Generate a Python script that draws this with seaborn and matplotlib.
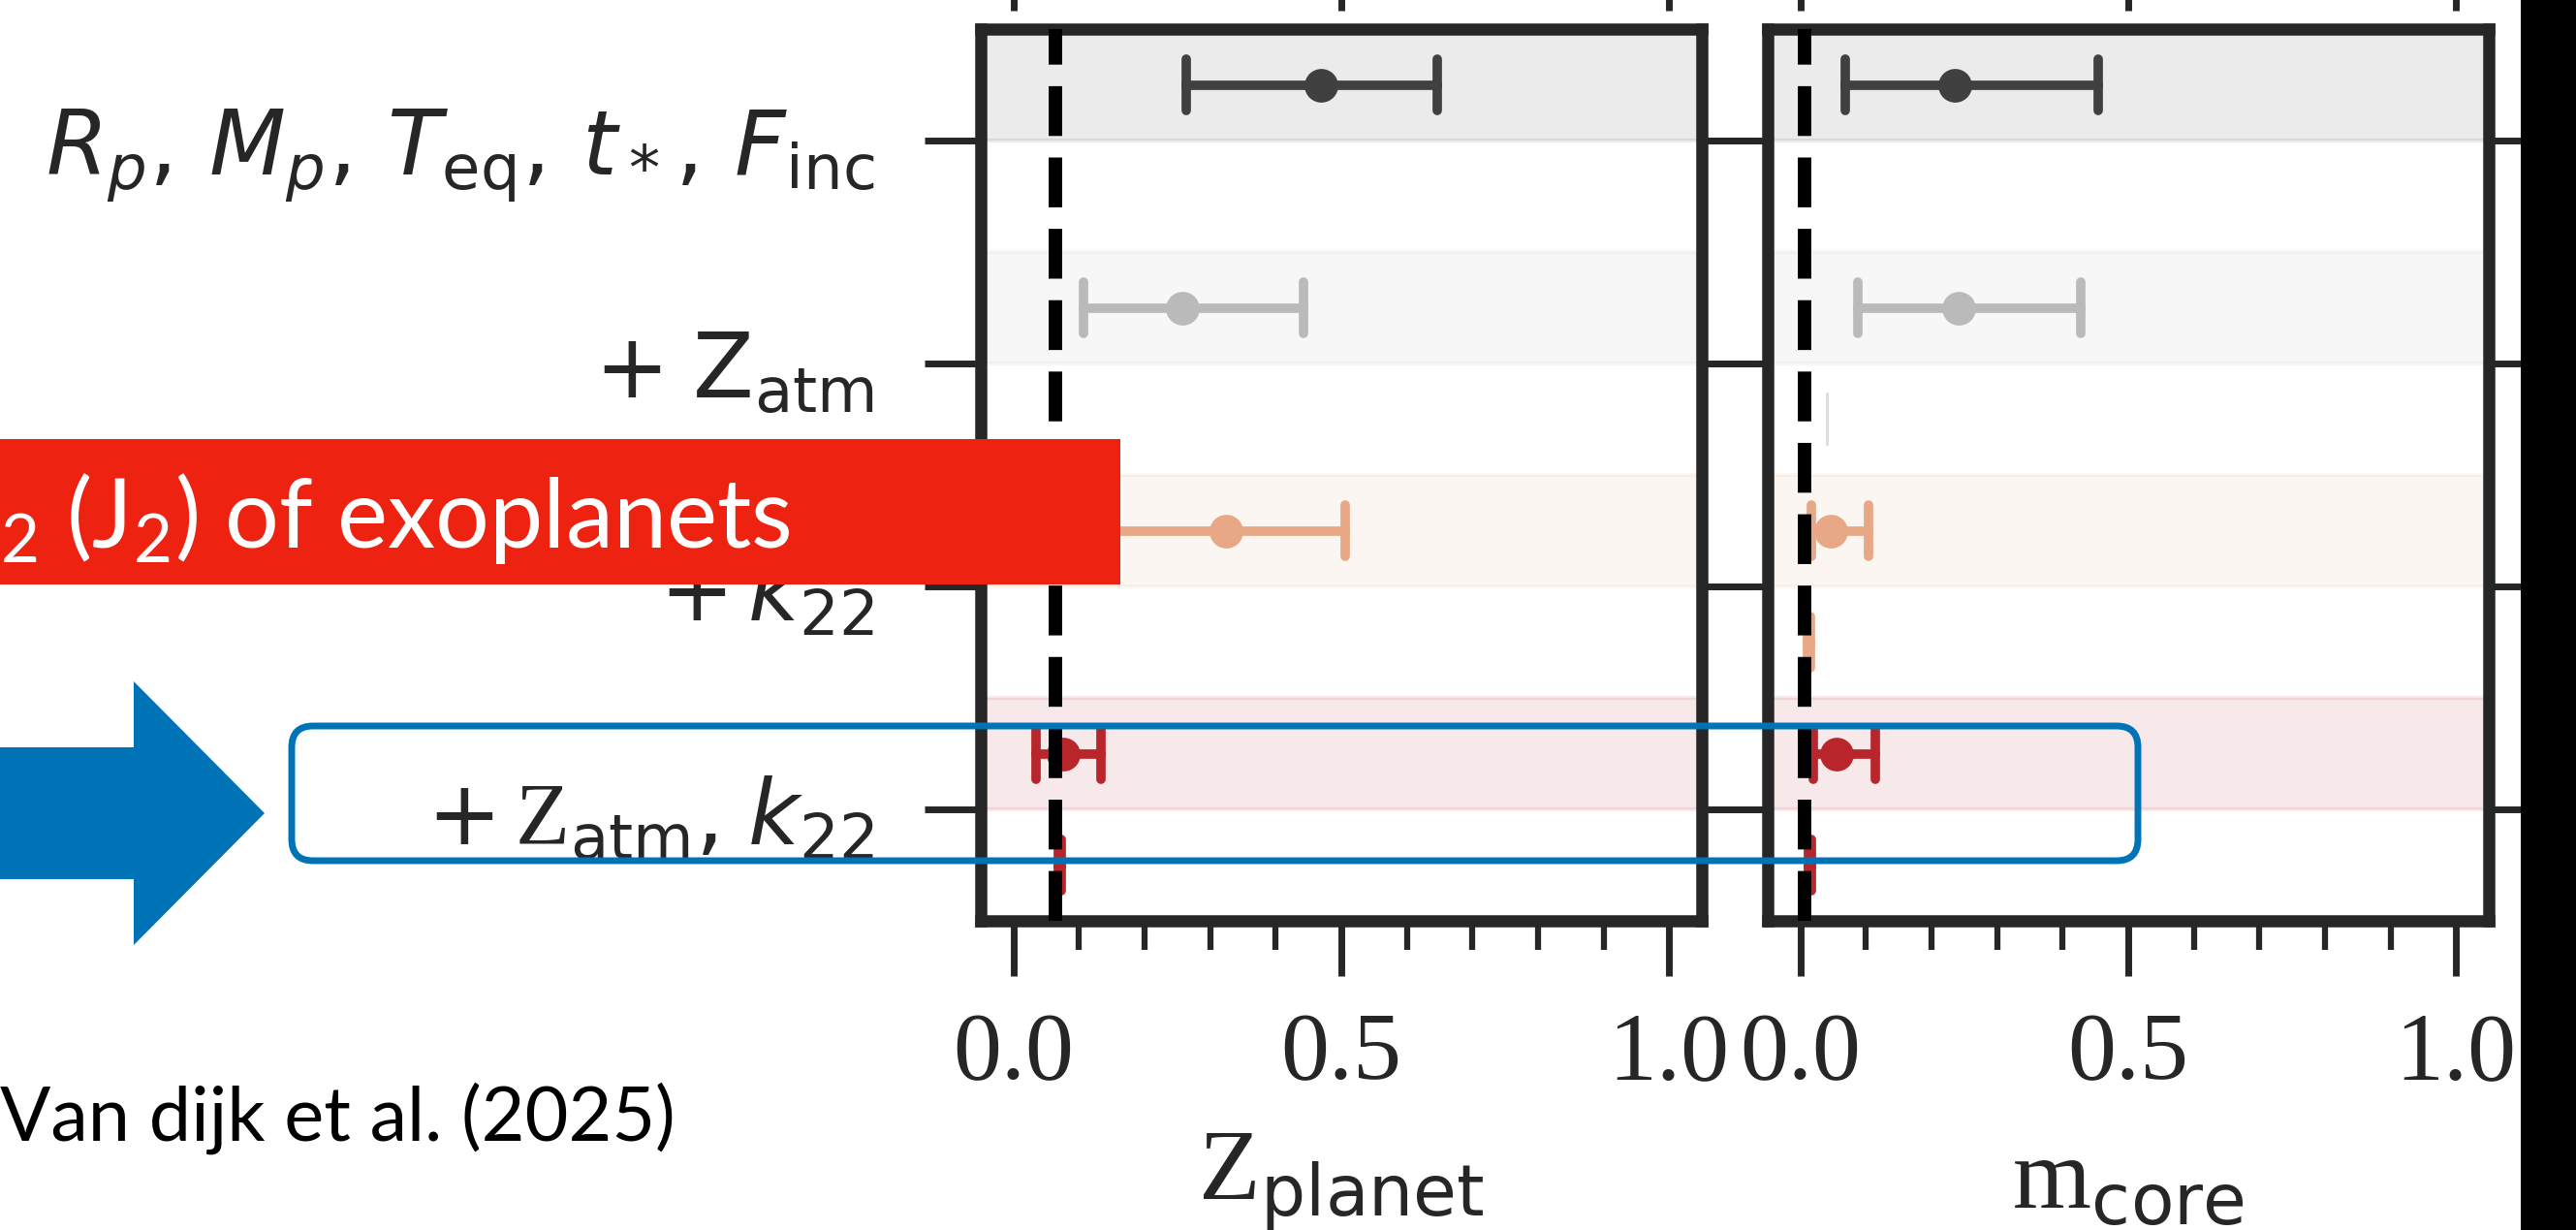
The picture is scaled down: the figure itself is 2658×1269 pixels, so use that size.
import numpy as np
import pandas as pd
import matplotlib
matplotlib.use("Agg")
import matplotlib.pyplot as plt
import seaborn as sns
from matplotlib.patches import Rectangle, Polygon, FancyBboxPatch
from matplotlib.ticker import MultipleLocator, FormatStrFormatter

# ---------------- data ----------------
models = ["base", "zatm", "k22", "zatm_k22"]
model_labels = [
    r"$R_p,\,M_p,\,T_{\mathrm{eq}},\,t_*,\,F_{\mathrm{inc}}$",
    r"$+\;\mathrm{Z}_{\mathrm{atm}}$",
    r"$+\,k_{22}$",
    r"$\mathsf{+}\,\mathrm{Z}_{\mathsf{atm}}\mathsf{,}\;k_{\mathsf{22}}$",
]
model_colors = ["#404040", "#bababa", "#e8a886", "#b8262c"]

panel_names = ["Z_planet", "m_core"]
panel_xlabels = [r"$\mathrm{Z}_{\mathsf{planet}}$", r"$\mathrm{m}_{\mathsf{core}}$"]
true_values = [0.064, 0.006]
x_ticks = [0.0, 0.5, 1.0]

# main retrieval: median and interval (upper row inside each band)
zpl_med = [0.469, 0.257, 0.324, 0.075]
zpl_lo = [0.263, 0.106, 0.150, 0.034]
zpl_hi = [0.646, 0.442, 0.506, 0.133]
mco_med = [0.236, 0.242, 0.046, 0.055]
mco_lo = [0.069, 0.087, 0.016, 0.019]
mco_hi = [0.454, 0.427, 0.104, 0.114]
# second, very narrow retrieval (lower row)
zpl2_med = [np.nan, np.nan, np.nan, 0.070]
zpl2_lo = [np.nan, np.nan, np.nan, 0.068]
zpl2_hi = [np.nan, np.nan, np.nan, 0.072]
mco2_med = [np.nan, 0.041, 0.013, 0.014]
mco2_lo = [np.nan, 0.040, 0.011, 0.012]
mco2_hi = [np.nan, 0.042, 0.015, 0.016]

banner_text = r"$\mathregular{_2}$ (J$\mathregular{_2}$) of exoplanets"
citation_text = "Van dijk et al. (2025)"

# ---------------- long table ----------------
rows = []
panel_data = {
    "Z_planet": ((zpl_lo, zpl_med, zpl_hi), (zpl2_lo, zpl2_med, zpl2_hi)),
    "m_core": ((mco_lo, mco_med, mco_hi), (mco2_lo, mco2_med, mco2_hi)),
}
for pname, (main, narrow) in panel_data.items():
    for series, (lo, med, hi) in (("main", main), ("narrow", narrow)):
        for m, model in enumerate(models):
            if np.isnan(med[m]):
                continue
            for v in (lo[m], med[m], hi[m]):
                rows.append(dict(panel=pname, model=model, series=series, value=v))
df = pd.DataFrame(rows)

# ---------------- style ----------------
sns.set_theme(style="ticks")
plt.rcParams["font.family"] = ["DejaVu Sans"]
plt.rcParams["mathtext.fontset"] = "dejavusans"
plt.rcParams["mathtext.rm"] = "Liberation Serif"
plt.rcParams["mathtext.it"] = "DejaVu Sans:italic"
plt.rcParams["mathtext.bf"] = "DejaVu Sans:bold"
plt.rcParams["mathtext.sf"] = "DejaVu Sans"

W, H = 2658, 1269
DPI = 100
fig = plt.figure(figsize=(W / DPI, H / DPI), dpi=DPI, facecolor="white")

INK = "#262626"
ax_left = [1012 / W, 1824 / W]
ax_w = 744 / W
ax_b = 1 - 950 / H
ax_h = 920 / H

narrow_lw = [7, 1.5, 7, 7]
narrow_alpha = [1, 0.45, 1, 1]
band_alpha = 0.1

axes = []
for p, pname in enumerate(panel_names):
    ax = fig.add_axes([ax_left[p], ax_b, ax_w, ax_h])
    axes.append(ax)
    for m, model in enumerate(models):
        ax.axhspan(m - 0.5, m, facecolor=model_colors[m], edgecolor=model_colors[m],
                   alpha=band_alpha, lw=3, zorder=0.5)
        pal = {"main": model_colors[m], "narrow": model_colors[m]}
        for series in ("main", "narrow"):
            sub = df[(df.panel == pname) & (df.model == model) & (df.series == series)]
            if sub.empty:
                continue
            if series == "main":
                ms, lw, al = 25, 7, 1
            else:
                ms, lw, al = 0, narrow_lw[m], narrow_alpha[m]
            sns.pointplot(data=sub, x="value", y="model", hue="series",
                          order=models, hue_order=["main", "narrow"], palette=pal,
                          estimator="median",
                          errorbar=lambda v: (v.min(), v.max()),
                          dodge=0.5, capsize=0.23, linestyles="none", markers="o",
                          markersize=ms, markeredgewidth=0, linewidth=lw,
                          err_kws={"linewidth": lw, "alpha": al},
                          legend=False, orient="h", ax=ax)
    ax.axvline(true_values[p], color="black", ls="--", lw=10, zorder=6)

    ax.set_xlim(-0.05, 1.05)
    ax.set_ylim(3.5, -0.5)
    ax.set_xticks(x_ticks)
    ax.xaxis.set_minor_locator(MultipleLocator(0.1))
    ax.xaxis.set_major_formatter(FormatStrFormatter("%.1f"))
    ax.tick_params(axis="x", which="major", length=41, width=5, pad=27,
                   labelsize=72, labelfontfamily="Liberation Serif",
                   color=INK, labelcolor=INK)
    ax.tick_params(axis="x", which="minor", length=21.5, width=4.5, color=INK,
                   bottom=True)
    ax.tick_params(axis="y", which="major", length=42, width=5, pad=37,
                   left=True, right=True, labelsize=66, color=INK, labelcolor=INK)
    ax.set_yticks(range(len(models)))
    if p == 0:
        ax.set_yticklabels(model_labels)
        ax.get_yticklabels()[3].set_math_fontfamily("custom")
    else:
        ax.set_yticklabels([])
        ax.tick_params(axis="y", labelleft=False)
    for sp in ax.spines.values():
        sp.set_linewidth(9)
        sp.set_color(INK)
        sp.set_visible(True)
    ax.set_ylabel("")
    ax.set_xlabel(panel_xlabels[p], fontsize=75, labelpad=24, color=INK,
                  math_fontfamily="custom")

    # ticks of the (cropped) panel row above
    axt = fig.add_axes([ax_left[p], 1 + 46 / H, ax_w, 0.3])
    axt.set_xlim(-0.05, 1.05)
    axt.set_xticks(x_ticks)
    axt.set_yticks([])
    axt.tick_params(axis="x", which="major", length=41, width=5, color=INK,
                    labelbottom=False)
    axt.patch.set_visible(False)
    for sp in axt.spines.values():
        sp.set_visible(False)

# ---------------- slide overlays ----------------
T = fig.dpi_scale_trans


def px(x, y):
    return (x / DPI, (H - y) / DPI)


BLUE = "#0073B7"
banner = Rectangle(px(0, 603), 1156 / DPI, 150 / DPI, transform=T,
                   facecolor="#EE2211", edgecolor="none", zorder=10)
fig.add_artist(banner)
fig.text(*px(0, 565), banner_text, transform=T, color="white", fontsize=71,
         family="Lato", ha="left", va="baseline", zorder=11)

arrow = Polygon([px(-10, 771), px(138, 771), px(138, 703), px(273, 839),
                 px(138, 975), px(138, 907), px(-10, 907)], closed=True,
                transform=T, facecolor=BLUE, edgecolor="none", zorder=10)
fig.add_artist(arrow)

frame = FancyBboxPatch(px(301, 888), (2206 - 301) / DPI, (888 - 749) / DPI,
                       boxstyle="round,pad=0,rounding_size=0.22", transform=T,
                       fill=False, edgecolor=BLUE, lw=5, zorder=10)
fig.add_artist(frame)

fig.text(*px(0, 1177), citation_text, transform=T, color="black", fontsize=55.7,
         family="Lato", ha="left", va="baseline", zorder=11)

fig.add_artist(Rectangle(px(2601, H), 80 / DPI, H / DPI, transform=T,
                         facecolor="black", edgecolor="none", zorder=12))

fig.savefig("out.png", dpi=DPI, facecolor="white")
